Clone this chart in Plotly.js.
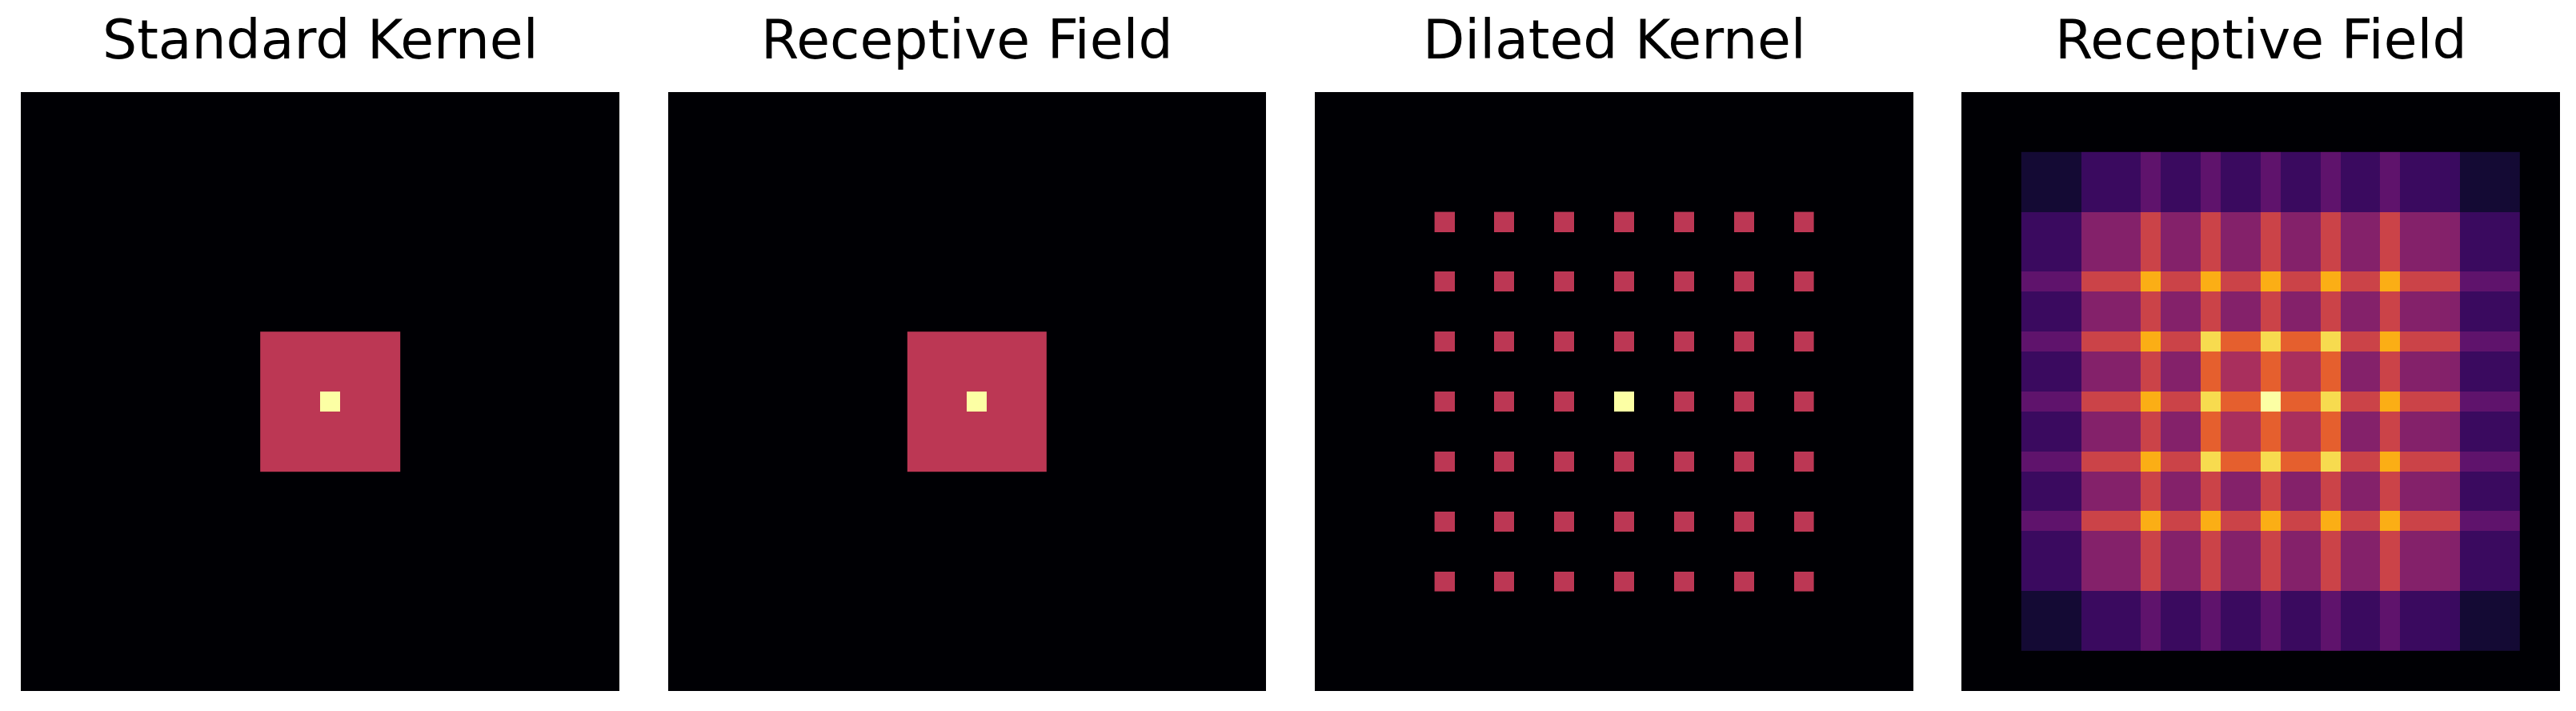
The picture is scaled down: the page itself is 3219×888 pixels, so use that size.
<!DOCTYPE html>
<html>
<head>
<meta charset="utf-8">
<script src="https://cdn.plot.ly/plotly-3.0.1.min.js"></script>
<style>
html, body { margin: 0; padding: 0; background: #ffffff; }
#chart { width: 3219px; height: 888px; }
</style>
</head>
<body>
<div id="chart"></div>
<script>
// ---------------- data ----------------
const panelTitles = ["Standard Kernel", "Receptive Field", "Dilated Kernel", "Receptive Field"];
const gridSize = 30;

// 7x7 standard kernel (0.5 everywhere, centre 1)
const standardKernel = [
  [0.5, 0.5, 0.5, 0.5, 0.5, 0.5, 0.5],
  [0.5, 0.5, 0.5, 0.5, 0.5, 0.5, 0.5],
  [0.5, 0.5, 0.5, 0.5, 0.5, 0.5, 0.5],
  [0.5, 0.5, 0.5, 1.0, 0.5, 0.5, 0.5],
  [0.5, 0.5, 0.5, 0.5, 0.5, 0.5, 0.5],
  [0.5, 0.5, 0.5, 0.5, 0.5, 0.5, 0.5],
  [0.5, 0.5, 0.5, 0.5, 0.5, 0.5, 0.5]
];

// receptive field of the standard kernel
const standardReceptiveField = [
  [0.5, 0.5, 0.5, 0.5, 0.5, 0.5, 0.5],
  [0.5, 0.5, 0.5, 0.5, 0.5, 0.5, 0.5],
  [0.5, 0.5, 0.5, 0.5, 0.5, 0.5, 0.5],
  [0.5, 0.5, 0.5, 1.0, 0.5, 0.5, 0.5],
  [0.5, 0.5, 0.5, 0.5, 0.5, 0.5, 0.5],
  [0.5, 0.5, 0.5, 0.5, 0.5, 0.5, 0.5],
  [0.5, 0.5, 0.5, 0.5, 0.5, 0.5, 0.5]
];

// 7x7 dilated kernel taps (dilation rate 3)
const dilatedKernelTaps = [
  [0.5, 0.5, 0.5, 0.5, 0.5, 0.5, 0.5],
  [0.5, 0.5, 0.5, 0.5, 0.5, 0.5, 0.5],
  [0.5, 0.5, 0.5, 0.5, 0.5, 0.5, 0.5],
  [0.5, 0.5, 0.5, 1.0, 0.5, 0.5, 0.5],
  [0.5, 0.5, 0.5, 0.5, 0.5, 0.5, 0.5],
  [0.5, 0.5, 0.5, 0.5, 0.5, 0.5, 0.5],
  [0.5, 0.5, 0.5, 0.5, 0.5, 0.5, 0.5]
];
const dilationRate = 3;

// 25x25 receptive field of the dilated stack (levels, max level 11)
const dilatedRFMaxLevel = 11;
const dilatedReceptiveField = [
  [1,1,1,2,2,2,3,2,2,3,2,2,3,2,2,3,2,2,3,2,2,2,1,1,1],
  [1,1,1,2,2,2,3,2,2,3,2,2,3,2,2,3,2,2,3,2,2,2,1,1,1],
  [1,1,1,2,2,2,3,2,2,3,2,2,3,2,2,3,2,2,3,2,2,2,1,1,1],
  [2,2,2,4,4,4,6,4,4,6,4,4,6,4,4,6,4,4,6,4,4,4,2,2,2],
  [2,2,2,4,4,4,6,4,4,6,4,4,6,4,4,6,4,4,6,4,4,4,2,2,2],
  [2,2,2,4,4,4,6,4,4,6,4,4,6,4,4,6,4,4,6,4,4,4,2,2,2],
  [3,3,3,6,6,6,9,6,6,9,6,6,9,6,6,9,6,6,9,6,6,6,3,3,3],
  [2,2,2,4,4,4,6,4,4,6,4,4,6,4,4,6,4,4,6,4,4,4,2,2,2],
  [2,2,2,4,4,4,6,4,4,6,4,4,6,4,4,6,4,4,6,4,4,4,2,2,2],
  [3,3,3,6,6,6,9,6,6,10,7,7,10,7,7,10,6,6,9,6,6,6,3,3,3],
  [2,2,2,4,4,4,6,4,4,7,5,5,7,5,5,7,4,4,6,4,4,4,2,2,2],
  [2,2,2,4,4,4,6,4,4,7,5,5,7,5,5,7,4,4,6,4,4,4,2,2,2],
  [3,3,3,6,6,6,9,6,6,10,7,7,11,7,7,10,6,6,9,6,6,6,3,3,3],
  [2,2,2,4,4,4,6,4,4,7,5,5,7,5,5,7,4,4,6,4,4,4,2,2,2],
  [2,2,2,4,4,4,6,4,4,7,5,5,7,5,5,7,4,4,6,4,4,4,2,2,2],
  [3,3,3,6,6,6,9,6,6,10,7,7,10,7,7,10,6,6,9,6,6,6,3,3,3],
  [2,2,2,4,4,4,6,4,4,6,4,4,6,4,4,6,4,4,6,4,4,4,2,2,2],
  [2,2,2,4,4,4,6,4,4,6,4,4,6,4,4,6,4,4,6,4,4,4,2,2,2],
  [3,3,3,6,6,6,9,6,6,9,6,6,9,6,6,9,6,6,9,6,6,6,3,3,3],
  [2,2,2,4,4,4,6,4,4,6,4,4,6,4,4,6,4,4,6,4,4,4,2,2,2],
  [2,2,2,4,4,4,6,4,4,6,4,4,6,4,4,6,4,4,6,4,4,4,2,2,2],
  [2,2,2,4,4,4,6,4,4,6,4,4,6,4,4,6,4,4,6,4,4,4,2,2,2],
  [1,1,1,2,2,2,3,2,2,3,2,2,3,2,2,3,2,2,3,2,2,2,1,1,1],
  [1,1,1,2,2,2,3,2,2,3,2,2,3,2,2,3,2,2,3,2,2,2,1,1,1],
  [1,1,1,2,2,2,3,2,2,3,2,2,3,2,2,3,2,2,3,2,2,2,1,1,1]
];

// ---------------- style ----------------
const inferno = [
  [0.0, '#000004'], [0.1, '#160b39'], [0.2, '#420a68'], [0.3, '#6a176e'],
  [0.4, '#932667'], [0.5, '#bc3754'], [0.6, '#dd513a'], [0.7, '#f37819'],
  [0.8, '#fca50a'], [0.9, '#f6d746'], [1.0, '#fcffa4']
];

// expand the dilated taps onto their sparse grid (gaps left at 0)
const dilatedSpan = (dilatedKernelTaps.length - 1) * dilationRate + 1;
const dilatedGrid = [];
for (let r = 0; r < dilatedSpan; r++) {
  const row = [];
  for (let c = 0; c < dilatedSpan; c++) {
    if (r % dilationRate === 0 && c % dilationRate === 0) {
      row.push(dilatedKernelTaps[r / dilationRate][c / dilationRate]);
    } else {
      row.push(0);
    }
  }
  dilatedGrid.push(row);
}

const W = 3219, H = 888;
const panelsPx = [[26, 774], [835, 1582], [1643, 2391], [2451, 3199]];
const topPx = 115, bottomPx = 863;

function heat(z, offset, zmax, idx) {
  const s = idx === 0 ? '' : String(idx + 1);
  return {
    type: 'heatmap', z: z, x0: offset, dx: 1, y0: offset, dy: 1,
    zmin: 0, zmax: zmax, colorscale: inferno, showscale: false,
    zsmooth: false, hoverinfo: 'skip',
    xaxis: 'x' + s, yaxis: 'y' + s
  };
}

const data = [
  heat(standardKernel, 12, 1, 0),
  heat(standardReceptiveField, 12, 1, 1),
  heat(dilatedGrid, 6, 1, 2),
  heat(dilatedReceptiveField, 3, dilatedRFMaxLevel, 3)
];

const layout = {
  width: W, height: H,
  margin: {l: 0, r: 0, t: 0, b: 0},
  paper_bgcolor: '#ffffff',
  plot_bgcolor: '#000004',
  showlegend: false,
  annotations: []
};

const axisBase = {
  range: [-0.5, gridSize - 0.5], showgrid: false, zeroline: false,
  showticklabels: false, ticks: '', showline: false, fixedrange: true
};

panelsPx.forEach(function (p, i) {
  const s = i === 0 ? '' : String(i + 1);
  layout['xaxis' + s] = Object.assign({}, axisBase, {
    domain: [p[0] / W, p[1] / W], anchor: 'y' + s
  });
  layout['yaxis' + s] = Object.assign({}, axisBase, {
    range: [gridSize - 0.5, -0.5],
    domain: [(H - bottomPx) / H, (H - topPx) / H], anchor: 'x' + s
  });
  layout.annotations.push({
    text: panelTitles[i], xref: 'paper', yref: 'paper',
    x: (p[0] + p[1]) / 2 / W, y: (H - 49) / H,
    xanchor: 'center', yanchor: 'middle', showarrow: false,
    font: {family: 'DejaVu Sans', size: 68, color: '#000000'}
  });
});

Plotly.newPlot('chart', data, layout, {displayModeBar: false, staticPlot: true});
</script>
</body>
</html>
